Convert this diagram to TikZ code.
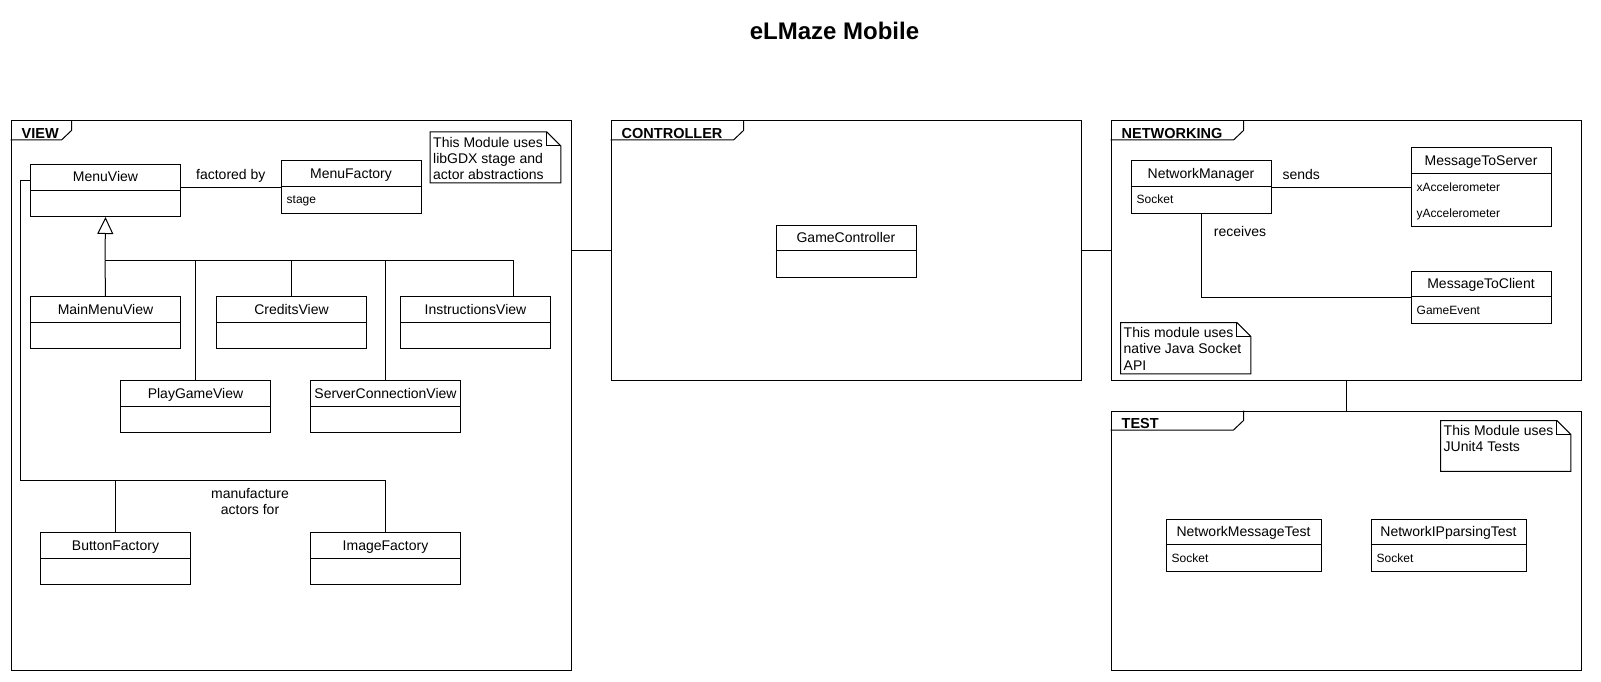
\documentclass[tikz,border=0pt]{standalone}
\usepackage{fontspec}
\setmainfont{Liberation Sans}
\usetikzlibrary{arrows.meta}
\tikzset{
  ln/.style={line width=1pt, draw=black},
  classbox/.style={draw=black, line width=1pt, fill=white, inner sep=0pt},
  hdr/.style={font=\fontsize{14}{16}\selectfont, inner sep=0pt},
  attr/.style={font=\fontsize{12}{14}\selectfont, inner sep=0pt},
  lbl/.style={font=\fontsize{14}{16}\selectfont, inner sep=0pt},
  framebox/.style={draw=black, line width=1pt, inner sep=0pt},
  framelbl/.style={font=\bfseries\fontsize{14.5}{16}\selectfont, inner sep=0pt},
  notebox/.style={inner sep=0pt, draw=none},
  notetext/.style={font=\fontsize{14}{16.3}\selectfont, align=left, inner sep=0pt, anchor=north west},
  inh/.style={-{Triangle[open,length=16pt,width=16pt]}}
}
\newcommand{\umlclass}[6]{%
  \node[classbox, minimum width=#4pt, minimum height=#5pt, anchor=north west] (#1) at (#2,#3) {};
  \node[hdr, anchor=base] (#1h) at ([yshift=-18pt]#1.north) {#6};
  \draw[ln] ([yshift=-26pt]#1.north west) -- ([yshift=-26pt]#1.north east);
}
\newcommand{\umlattr}[4]{%
  \node[attr, anchor=base west] (#2) at ([xshift=6pt,yshift=-#3pt]#1.north west) {#4};
}
\newcommand{\umlframe}[7]{%
  \node[framebox, minimum width=#4pt, minimum height=#5pt, anchor=north west] (#1) at (#2,#3) {};
  \draw[ln] ([xshift=#6pt]#1.north west) -- ++(0,10) -- ++(-10,9.5) -- ([yshift=-19.5pt]#1.north west);
  \node[framelbl, anchor=base west] (#1l) at ([xshift=11pt,yshift=-17.8pt]#1.north west) {#7};
}
\newcommand{\umlnote}[6]{%
  \node[notebox, minimum width=#4pt, minimum height=#5pt, anchor=north west] (#1) at (#2,#3) {};
  \draw[ln, fill=white] (#1.north west) -- ([xshift=-14pt]#1.north east) -- ([yshift=-14pt]#1.north east) -- (#1.south east) -- (#1.south west) -- cycle;
  \draw[ln] ([xshift=-14pt]#1.north east) -- ([xshift=-14pt,yshift=-14pt]#1.north east) -- ([yshift=-14pt]#1.north east);
  \node[notetext] (#1t) at ([xshift=3pt,yshift=-4.8pt]#1.north west) {#6};
}
\begin{document}
\begin{tikzpicture}[x=1pt,y=-1pt]
\useasboundingbox (0,0) rectangle (1601,682);
\fill[white] (0,0) rectangle (1601,682);

\node[font=\bfseries\fontsize{24}{28}\selectfont, anchor=base, inner sep=0pt] (title) at (834.5,39.5) {eLMaze Mobile};

% frames
\umlframe{VIEW}{10.5}{120.5}{560}{549.5}{61}{VIEW}
\umlframe{CONTROLLER}{610.5}{120.5}{470}{259.5}{133}{CONTROLLER}
\umlframe{NETWORKING}{1110.5}{120.5}{470}{259.5}{133}{NETWORKING}
\umlframe{TEST}{1110.5}{410.5}{470}{259.5}{133}{TEST}

% frame connectors
\draw[ln] (CONTROLLER.west) -- (CONTROLLER.west -| VIEW.east);
\draw[ln] (CONTROLLER.east) -- (CONTROLLER.east -| NETWORKING.west);
\draw[ln] (NETWORKING.south) -- (TEST.north);

% notes
\umlnote{noteView}{430}{132}{130.5}{50.5}{This Module uses\\libGDX stage and\\actor abstractions}
\umlnote{noteNet}{1120.5}{322.5}{130}{51}{This module uses\\native Java Socket\\API}
\umlnote{noteTest}{1440.5}{420.5}{130}{50.5}{This Module uses\\JUnit4 Tests}

% VIEW classes
\umlclass{MenuView}{30}{164}{150}{52}{MenuView}
\umlclass{MenuFactory}{280.5}{160.5}{140}{52}{MenuFactory}
\umlattr{MenuFactory}{MFa}{43.5}{stage}
\umlclass{MainMenuView}{30}{296}{150}{52}{MainMenuView}
\umlclass{CreditsView}{216}{296}{150}{52}{CreditsView}
\umlclass{InstructionsView}{400}{296}{150}{52}{InstructionsView}
\umlclass{PlayGameView}{120}{380}{150}{52}{PlayGameView}
\umlclass{ServerConnectionView}{310}{380}{150}{52}{ServerConnectionView}
\umlclass{ButtonFactory}{40}{532}{150}{52}{ButtonFactory}
\umlclass{ImageFactory}{310}{532}{150}{52}{ImageFactory}

% CONTROLLER
\umlclass{GameController}{775.5}{224.5}{140}{52}{GameController}

% NETWORKING
\umlclass{NetworkManager}{1130.5}{160.5}{140}{52}{NetworkManager}
\umlattr{NetworkManager}{NMa}{43.5}{Socket}
\umlclass{MessageToServer}{1410.5}{147.5}{140}{78}{MessageToServer}
\umlattr{MessageToServer}{MSa}{43.5}{xAccelerometer}
\umlattr{MessageToServer}{MSb}{69.5}{yAccelerometer}
\umlclass{MessageToClient}{1410.5}{270.5}{140}{52}{MessageToClient}
\umlattr{MessageToClient}{MCa}{43.5}{GameEvent}

% TEST
\umlclass{NetworkMessageTest}{1165.5}{518.5}{155}{52}{NetworkMessageTest}
\umlattr{NetworkMessageTest}{NMTa}{43.5}{Socket}
\umlclass{NetworkIPparsingTest}{1370.5}{518.5}{155}{52}{NetworkIPparsingTest}
\umlattr{NetworkIPparsingTest}{NIPa}{43.5}{Socket}

% associations in VIEW
\draw[ln] (MenuFactory.west) -- (MenuFactory.west -| MenuView.east);
\node[lbl, anchor=base] (lFact) at (230.8,179) {factored by};

\coordinate (bus) at (105,260.5);
\draw[ln] (MainMenuView.north) -- (bus);
\draw[ln] (PlayGameView.north) |- (bus);
\draw[ln] (CreditsView.north) |- (bus);
\draw[ln] (ServerConnectionView.north) |- (bus);
\draw[ln] ([xshift=38pt]InstructionsView.north) |- (bus);
\draw[ln, -{Triangle[open,length=17pt,width=16pt]}] (bus) -- (MenuView.south);

\coordinate (mfy) at (0,480.5);
\coordinate (mStart) at (30,180.7);
\draw[ln] (mStart) -- ++(-9.5,0) |- (ButtonFactory.north |- mfy) -- (ButtonFactory.north);
\draw[ln] (mStart) -- ++(-9.5,0) |- (ImageFactory.north |- mfy) -- (ImageFactory.north);
\node[lbl, align=center, anchor=north] (lManu) at (250,488) {manufacture\\actors for};

% associations in NETWORKING
\draw[ln] (NetworkManager.east) -- (NetworkManager.east -| MessageToServer.west);
\node[lbl, anchor=base] (lSends) at (1301.3,179) {sends};
\draw[ln] (NetworkManager.south) |- (MessageToClient.west);
\node[lbl, anchor=base] (lRecv) at (1240,236.5) {receives};
\end{tikzpicture}
\end{document}
